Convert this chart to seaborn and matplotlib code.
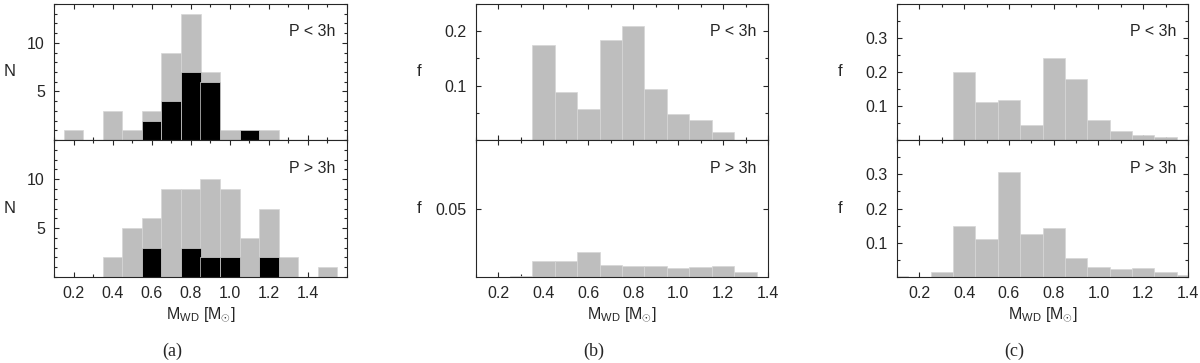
import numpy as np
import pandas as pd
import matplotlib
matplotlib.use('Agg')
import matplotlib.pyplot as plt
import seaborn as sns
from matplotlib.ticker import MultipleLocator, FixedLocator

# white dwarf mass bins (bin centres, width 0.1 Msun)
mass_a = [0.2, 0.3, 0.4, 0.5, 0.6, 0.7, 0.8, 0.9, 1.0, 1.1, 1.2, 1.3, 1.4, 1.5]
n_short_all = [1, 0, 3, 1, 3, 9, 13, 7, 1, 1, 1, 0, 0, 0]
n_short_mag = [0, 0, 0, 0, 2, 4, 7, 6, 0, 1, 0, 0, 0, 0]
n_long_all = [0, 0, 2, 5, 6, 9, 9, 10, 9, 4, 7, 2, 0, 1]
n_long_mag = [0, 0, 0, 0, 3, 0, 3, 2, 2, 0, 2, 0, 0, 0]

mass_b = [0.3, 0.4, 0.5, 0.6, 0.7, 0.8, 0.9, 1.0, 1.1, 1.2, 1.3]
f_b_short = [0, 0.175, 0.088, 0.057, 0.184, 0.21, 0.094, 0.048, 0.036, 0.015, 0]
f_b_long = [0.0007, 0.0114, 0.012, 0.018, 0.0089, 0.008, 0.008, 0.0063, 0.0072, 0.008, 0.0039]

mass_c = [0.1, 0.2, 0.3, 0.4, 0.5, 0.6, 0.7, 0.8, 0.9, 1.0, 1.1, 1.2, 1.3, 1.4]
f_c_short = [0, 0, 0, 0.2, 0.111, 0.117, 0.044, 0.242, 0.178, 0.059, 0.027, 0.014, 0.0095, 0]
f_c_long = [0.003, 0, 0.015, 0.15, 0.112, 0.306, 0.126, 0.142, 0.056, 0.028, 0.024, 0.026, 0.015, 0.007]

sns.set_style('ticks')
plt.rcParams['font.family'] = ['Liberation Sans', 'DejaVu Sans']
plt.rcParams['mathtext.fontset'] = 'custom'
plt.rcParams['mathtext.rm'] = 'Liberation Sans'
plt.rcParams['mathtext.it'] = 'Liberation Sans'
plt.rcParams['font.size'] = 11.5

FS = 11.5
GREY = '#bebebe'
W, H = 1200, 363


def hist(ax, centres, vals, color):
    df = pd.DataFrame({'mass': centres, 'val': vals})
    bins = [round(c - 0.05, 3) for c in centres] + [round(centres[-1] + 0.05, 3)]
    sns.histplot(data=df, x='mass', weights='val', bins=bins, ax=ax,
                 color=color, alpha=1, edgecolor='#d6d6d6', linewidth=0.5)


def style(ax, xlim, ylim, yticks, yminor, bottom):
    ax.set_xlim(*xlim)
    ax.set_ylim(*ylim)
    ax.xaxis.set_major_locator(MultipleLocator(0.2))
    ax.xaxis.set_minor_locator(MultipleLocator(0.1))
    ax.yaxis.set_major_locator(FixedLocator(yticks))
    if yminor:
        ax.yaxis.set_minor_locator(MultipleLocator(yminor))
    ax.tick_params(which='both', direction='in', top=True, right=True,
                   width=0.8, labelsize=FS, pad=6.5)
    ax.tick_params(which='major', length=3.5)
    ax.tick_params(which='minor', length=2)
    for s in ax.spines.values():
        s.set_linewidth(0.8)
    ax.set_ylabel('')
    ax.set_xlabel('')
    if bottom:
        ax.set_xticks([0.2, 0.4, 0.6, 0.8, 1.0, 1.2, 1.4])
        ax.set_xticklabels(['0.2', '0.4', '0.6', '0.8', '1.0', '1.2', '1.4'])
        ax.set_xlabel(r'M$_{\mathrm{WD}}$ [M$_{\odot}$]', fontsize=FS, labelpad=3)
    else:
        ax.tick_params(labelbottom=False)


fig = plt.figure(figsize=(W / 100, H / 100), dpi=100)

panels = [
    # left px, right px, ylabel, label x px
    (54, 347, 'N', 10),
    (476, 768, 'f', 419),
    (897, 1188, 'f', 840),
]
top_px, mid_px, bot_px = 4, 140, 277

axes = []
for left, right, ylab, lx in panels:
    ax_t = fig.add_axes([left / W, 1 - mid_px / H, (right - left) / W, (mid_px - top_px) / H])
    ax_b = fig.add_axes([left / W, 1 - bot_px / H, (right - left) / W, (bot_px - mid_px) / H])
    axes.append((ax_t, ax_b, ylab, (lx - left) / (right - left)))

# (a) counts
a_t, a_b = axes[0][0], axes[0][1]
hist(a_t, mass_a, n_short_all, GREY)
hist(a_t, mass_a, n_short_mag, 'black')
hist(a_b, mass_a, n_long_all, GREY)
hist(a_b, mass_a, n_long_mag, 'black')
style(a_t, (0.1, 1.6), (0, 14), [5, 10], 1, False)
style(a_b, (0.1, 1.6), (0, 14), [5, 10], 1, True)

# (b)
b_t, b_b = axes[1][0], axes[1][1]
hist(b_t, mass_b, f_b_short, GREY)
hist(b_b, mass_b, f_b_long, GREY)
style(b_t, (0.1, 1.4), (0, 0.25), [0.1, 0.2], 0.05, False)
style(b_b, (0.1, 1.4), (0, 0.1), [0.05], None, True)
b_t.set_yticklabels(['0.1', '0.2'])
b_b.set_yticklabels(['0.05'])

# (c)
c_t, c_b = axes[2][0], axes[2][1]
hist(c_t, mass_c, f_c_short, GREY)
hist(c_b, mass_c, f_c_long, GREY)
style(c_t, (0.1, 1.4), (0, 0.4), [0.1, 0.2, 0.3], 0.05, False)
style(c_b, (0.1, 1.4), (0, 0.4), [0.1, 0.2, 0.3], 0.05, True)
for ax in (c_t, c_b):
    ax.set_yticklabels(['0.1', '0.2', '0.3'])

for ax_t, ax_b, ylab, lxf in axes:
    for ax in (ax_t, ax_b):
        ax.set_ylabel(ylab, rotation=0, fontsize=FS + 0.5, va='center', ha='center')
        ax.yaxis.set_label_coords(lxf, 0.5)
    ax_t.text(0.96, 0.795, 'P < 3h', transform=ax_t.transAxes, ha='right', va='center', fontsize=FS)
    ax_b.text(0.96, 0.795, 'P > 3h', transform=ax_b.transAxes, ha='right', va='center', fontsize=FS)

for x, lab in [(172, '(a)'), (594, '(b)'), (1014, '(c)')]:
    fig.text(x / W, 1 - 351 / H, lab, ha='center', va='center', fontsize=13,
             family='Liberation Serif')

fig.savefig('out.png', dpi=100)
